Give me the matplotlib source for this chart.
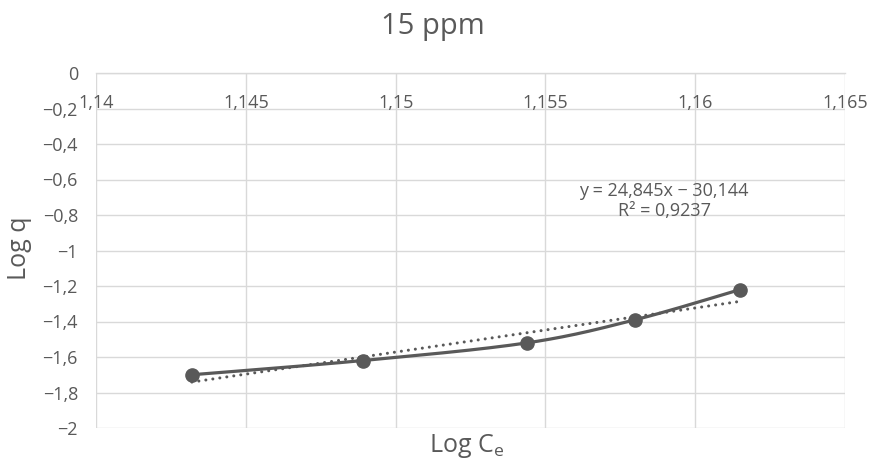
import numpy as np
import matplotlib
matplotlib.use("Agg")
import matplotlib.pyplot as plt
import matplotlib.transforms as mtransforms

plt.rcParams['font.family'] = ['Open Sans', 'DejaVu Sans']

# Data
log_ce = [1.1432, 1.1489, 1.1544, 1.1580, 1.1615]
log_q = [-1.70, -1.62, -1.52, -1.39, -1.22]
slope, intercept = 24.845, -30.144
x_ticks = [1.14, 1.145, 1.15, 1.155, 1.16, 1.165]
x_tick_labels = ["1,14", "1,145", "1,15", "1,155", "1,16", "1,165"]
y_ticks = [0, -0.2, -0.4, -0.6, -0.8, -1, -1.2, -1.4, -1.6, -1.8, -2]
y_tick_labels = ["0", "\u22120,2", "\u22120,4", "\u22120,6", "\u22120,8", "\u22121",
                 "\u22121,2", "\u22121,4", "\u22121,6", "\u22121,8", "\u22122"]

TXT = "#595959"
GRID = "#d9d9d9"
LINE = "#595959"
TICK_FS = 13

def excel_smooth(xs, ys, n=40):
    xs = np.asarray(xs, float); ys = np.asarray(ys, float)
    px, py = [], []
    m = len(xs)
    for i in range(m - 1):
        x0, y0 = xs[max(i - 1, 0)], ys[max(i - 1, 0)]
        x1, y1 = xs[i], ys[i]
        x2, y2 = xs[i + 1], ys[i + 1]
        x3, y3 = xs[min(i + 2, m - 1)], ys[min(i + 2, m - 1)]
        c1x, c1y = x1 + (x2 - x0) / 6, y1 + (y2 - y0) / 6
        c2x, c2y = x2 - (x3 - x1) / 6, y2 - (y3 - y1) / 6
        t = np.linspace(0, 1, n)
        bx = (1-t)**3*x1 + 3*(1-t)**2*t*c1x + 3*(1-t)*t**2*c2x + t**3*x2
        by = (1-t)**3*y1 + 3*(1-t)**2*t*c1y + 3*(1-t)*t**2*c2y + t**3*y2
        px.extend(bx); py.extend(by)
    return np.array(px), np.array(py)

fig = plt.figure(figsize=(8.74, 4.68), dpi=100)
ax = fig.add_axes([96/874, 1 - 428/468, (845 - 96)/874, (428 - 73)/468])

ax.set_xlim(1.14, 1.165)
ax.set_ylim(-2, 0)
ax.set_xticks(x_ticks)
ax.set_yticks(y_ticks)
ax.set_yticklabels(y_tick_labels)
ax.set_xticklabels([])
ax.tick_params(axis='both', length=0, colors=TXT, labelsize=TICK_FS)
ax.tick_params(axis='y', pad=13)
ax.grid(True, color=GRID, linewidth=1)
ax.set_axisbelow(True)
for s in ['bottom', 'left', 'right']:
    ax.spines[s].set_visible(False)
ax.spines['top'].set_color(GRID)
ax.spines['top'].set_linewidth(1)

trans = mtransforms.blended_transform_factory(ax.transData, ax.transAxes)
for xv, lab in zip(x_ticks, x_tick_labels):
    ax.text(xv, 1 - 35/355, lab, transform=trans, ha='center', va='baseline',
            fontsize=TICK_FS, color=TXT)

# trendline
tx = np.linspace(log_ce[0], log_ce[-1], 50)
ax.plot(tx, slope * tx + intercept, linestyle=(0, (0.01, 2.3)), dash_capstyle='round',
        color=LINE, linewidth=2.2, zorder=2)

sx, sy = excel_smooth(log_ce, log_q)
ax.plot(sx, sy, color=LINE, linewidth=2.3, zorder=3, solid_capstyle='round')
ax.plot(log_ce, log_q, 'o', color=LINE, markersize=9.5, zorder=4)

ax.text(1.15896, -0.721, "y = 24,845x \u2212 30,144\nR\u00b2 = 0,9237", ha='center', va='center',
        fontsize=TICK_FS, color=TXT, linespacing=1.15)

fig.text(433/874, 1 - 34/468, "15 ppm", ha='center', va='baseline', fontsize=21, color=TXT)
fig.text(20/874, 1 - 248/468, "Log q", ha='center', va='center', fontsize=18, color=TXT,
         rotation=90)
fig.text(467/874, 1 - 446/468, r"Log C$_\mathregular{e}$", ha='center', va='center',
         fontsize=18, color=TXT)

fig.savefig("out.png", dpi=100)
